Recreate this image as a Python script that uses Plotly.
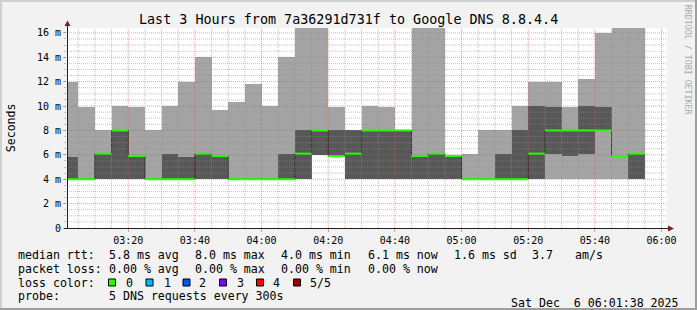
import numpy as np
import pandas as pd
import plotly.graph_objects as go

# ---------------- data ----------------
DAY = "2025-12-06"
x_start = pd.Timestamp(f"{DAY} 03:01:38")
x_end = pd.Timestamp(f"{DAY} 06:01:38")
step = pd.Timedelta(minutes=5)
interval_end = pd.date_range(f"{DAY} 03:05", f"{DAY} 05:55", freq="5min")
interval_start = interval_end - step

# sorted pings per 5-minute interval (ms)
ping_min = [4.0, 4.0, 4.0, 4.0, 4.0, 4.0, 4.0, 4.0, 4.0, 4.0, 4.0, 4.0, 4.0, 4.0, 4.0, 6.0, 5.9, 4.0,
            4.0, 4.0, 4.0, 4.0, 4.0, 4.0, 4.0, 4.0, 4.0, 4.0, 4.0, 4.0, 4.0, 4.0, 4.0, 4.0, 4.0]
ping_lo = [4.0, 4.0, 4.0, 4.0, 4.0, 4.0, 4.0, 4.0, 4.0, 4.0, 4.0, 4.0, 4.0, 4.0, 4.0, 6.0, 5.9, 4.0,
           4.0, 4.0, 4.0, 4.0, 4.0, 4.0, 4.0, 4.0, 4.0, 4.0, 4.0, 6.1, 5.9, 6.1, 8.0, 5.9, 4.0]
ping_med = [4.0, 4.0, 6.1, 8.0, 5.9, 4.0, 4.0, 4.0, 6.1, 5.9, 4.0, 4.0, 4.0, 4.0, 6.1, 8.0, 5.9, 6.1,
            8.0, 8.0, 8.0, 5.9, 6.1, 5.9, 4.0, 4.0, 4.0, 4.0, 6.1, 8.0, 8.0, 8.0, 8.0, 5.9, 6.1]
ping_hi = [5.8, 4.0, 6.1, 8.0, 5.9, 4.0, 6.1, 5.8, 6.1, 5.9, 4.0, 4.0, 4.0, 6.1, 8.0, 8.0, 8.0, 8.0,
           8.0, 8.0, 8.0, 6.0, 6.1, 5.9, 4.0, 4.0, 6.1, 8.0, 10.0, 9.9, 8.0, 10.0, 9.9, 5.9, 6.1]
ping_max = [12.0, 9.9, 8.0, 10.0, 9.9, 8.0, 10.0, 12.0, 14.0, 9.7, 10.3, 11.8, 10.0, 14.0, 16.4, 16.4, 9.9, 8.0,
            10.0, 9.9, 8.0, 16.4, 16.4, 5.9, 6.1, 8.0, 8.0, 10.0, 12.0, 12.0, 9.9, 12.2, 16.0, 16.4, 16.4]

y_max = 16.4
xtick_labels = ["03:20", "03:40", "04:00", "04:20", "04:40", "05:00", "05:20", "05:40", "06:00"]
ytick_vals = [0, 2, 4, 6, 8, 10, 12, 14, 16]
ytick_text = ["0", "2 m", "4 m", "6 m", "8 m", "10 m", "12 m", "14 m", "16 m"]

title_text = "Last 3 Hours from 7a36291d731f to Google DNS 8.8.4.4"
median_label = "median rtt:"
median_stats = ["5.8 ms avg", "8.0 ms max", "4.0 ms min", "6.1 ms now", "1.6 ms sd", "3.7", "am/s"]
loss_label = "packet loss:"
loss_stats = ["0.00 % avg", "0.00 % max", "0.00 % min", "0.00 % now"]
color_label = "loss color:"
loss_names = ["0", "1", "2", "3", "4", "5/5"]
loss_colors = ["#26ff00", "#00b8ff", "#0059ff", "#7e00ff", "#ff0000", "#a00000"]
probe_label = "probe:"
probe_text = "5 DNS requests every 300s"
date_text = "Sat Dec\u00a0\u00a06 06:01:38 2025"
watermark = "RRDTOOL / TOBI OETIKER"

# ---------------- layout geometry ----------------
W, H = 697, 310
L, R, T, B = 67, 667, 28, 228
FONT = "DejaVu Sans Mono"


def px(xp):
    return (xp - L) / (R - L)


def py(yp):
    return (B - yp) / (B - T)


fig = go.Figure()
width_ms = step.total_seconds() * 1000

# smoke: outer pair (min..max) and inner pair (2nd..4th)
fig.add_trace(go.Bar(
    x=interval_end, base=ping_min,
    y=(np.array(ping_max) - np.array(ping_min)).tolist(),
    offset=-width_ms, width=width_ms,
    marker=dict(color="#a4a4a4", line=dict(width=0)), hoverinfo="skip"))
fig.add_trace(go.Bar(
    x=interval_end, base=ping_lo,
    y=(np.array(ping_hi) - np.array(ping_lo)).tolist(),
    offset=-width_ms, width=width_ms,
    marker=dict(color="#585858", line=dict(width=0)), hoverinfo="skip"))

# median line (thin dark step)
mx = list(interval_start) + [interval_end[-1]]
my = list(ping_med) + [ping_med[-1]]
fig.add_trace(go.Scatter(x=mx, y=my, mode="lines",
                         line=dict(color="#202020", width=1, shape="hv"), hoverinfo="skip"))

# grid on top of the smoke
minor_y = [v for v in np.arange(0.5, y_max, 0.5) if v % 2 != 0]
major_y = [v for v in ytick_vals if v > 0]
grid_x_all = pd.date_range(f"{DAY} 03:05", f"{DAY} 06:00", freq="5min")
major_x = [t for t in grid_x_all if t.minute % 20 == 0]
minor_x = [t for t in grid_x_all if t.minute % 20 != 0]


def hlines(vals):
    xs, ys = [], []
    for v in vals:
        xs += [x_start, x_end, None]
        ys += [v, v, None]
    return xs, ys


def vlines(vals):
    xs, ys = [], []
    for v in vals:
        xs += [v, v, None]
        ys += [0, y_max, None]
    return xs, ys


GRID = "rgba(143,143,143,0.55)"
MGRID = "rgba(222,79,79,0.55)"
for fn, vals, col in [(hlines, minor_y, GRID), (vlines, minor_x, GRID),
                      (hlines, major_y, MGRID), (vlines, major_x, MGRID)]:
    gx, gy = fn(vals)
    fig.add_trace(go.Scatter(x=gx, y=gy, mode="lines",
                             line=dict(color=col, width=1, dash="1px,1px"), hoverinfo="skip"))

# loss-coloured median segments
gx, gy = [], []
for s, e, m in zip(interval_start, interval_end, ping_med):
    gx += [s, e, None]
    gy += [m, m, None]
fig.add_trace(go.Scatter(x=gx, y=gy, mode="lines",
                         line=dict(color=loss_colors[0], width=2), hoverinfo="skip"))

# ---------------- shapes: frame, axes, arrows ----------------
shapes = []
BG_A, BG_B = "#cfcfcf", "#9e9e9e"
shapes.append(dict(type="rect", xref="paper", yref="paper", x0=px(0), x1=px(W), y0=py(0), y1=py(2),
                   fillcolor=BG_A, line=dict(width=0), layer="below"))
shapes.append(dict(type="rect", xref="paper", yref="paper", x0=px(0), x1=px(2), y0=py(0), y1=py(H),
                   fillcolor=BG_A, line=dict(width=0), layer="below"))
shapes.append(dict(type="rect", xref="paper", yref="paper", x0=px(0), x1=px(W), y0=py(H - 2), y1=py(H),
                   fillcolor=BG_B, line=dict(width=0), layer="below"))
shapes.append(dict(type="rect", xref="paper", yref="paper", x0=px(W - 2), x1=px(W), y0=py(0), y1=py(H),
                   fillcolor=BG_B, line=dict(width=0), layer="below"))
AXIS = "#1f1f1f"
ARROW = "#801f1f"
shapes.append(dict(type="line", xref="paper", yref="paper", x0=px(L + 0.5), x1=px(L + 0.5),
                   y0=py(B + 0.5), y1=py(25), line=dict(color=AXIS, width=1), layer="above"))
shapes.append(dict(type="line", xref="paper", yref="paper", x0=px(L - 3), x1=px(669),
                   y0=py(B + 0.5), y1=py(B + 0.5), line=dict(color=AXIS, width=1), layer="above"))
shapes.append(dict(type="path", xref="paper", yref="paper",
                   path=f"M {px(64.5)} {py(26)} L {px(70.5)} {py(26)} L {px(67.5)} {py(20.5)} Z",
                   fillcolor=ARROW, line=dict(width=0), layer="above"))
shapes.append(dict(type="path", xref="paper", yref="paper",
                   path=f"M {px(668)} {py(225.5)} L {px(668)} {py(231.5)} L {px(674)} {py(228.5)} Z",
                   fillcolor=ARROW, line=dict(width=0), layer="above"))

# legend boxes
box_x = [108.5, 146, 183, 219.5, 256.5, 293.5]
name_x = [124, 161.7, 197.3, 235, 271, 308]
ROW = [254.5, 268.5, 282.5, 296]
for bx, c in zip(box_x, loss_colors):
    shapes.append(dict(type="rect", xref="paper", yref="paper", x0=px(bx), x1=px(bx + 7),
                       y0=py(ROW[2] - 3.5), y1=py(ROW[2] + 3.5),
                       fillcolor=c, line=dict(color="#000000", width=1), layer="above"))

# ---------------- annotations ----------------
anns = []


def ann(text, xp, yp, size=11.6, xanchor="left", color="#000000", angle=0):
    anns.append(dict(text=text, x=px(xp), y=py(yp), xref="paper", yref="paper",
                     xanchor=xanchor, yanchor="middle", showarrow=False, textangle=angle,
                     font=dict(family=FONT, size=size, color=color)))


ann(title_text, 348.5, 19, size=13.4, xanchor="center")
ann("Seconds", 10.8, 127.5, angle=-90, xanchor="center")
ann(watermark, 688.3, 60, size=8.3, xanchor="center", color="#a8a8a8", angle=90)

col_x = [107.3, 193.3, 279.3, 366, 451.7, 530, 572.7]
ann(median_label, 16, ROW[0])
for t, xp in zip(median_stats, col_x):
    ann(t, xp, ROW[0])
ann(loss_label, 16, ROW[1])
for t, xp in zip(loss_stats, col_x):
    ann(t, xp, ROW[1])
ann(color_label, 16, ROW[2])
for t, xp in zip(loss_names, name_x):
    ann(t, xp, ROW[2])
ann(probe_label, 16, ROW[3])
ann(probe_text, 107.3, ROW[3])
ann(date_text, 681, 302.5, xanchor="right")

fig.update_layout(
    width=W, height=H,
    margin=dict(l=L, r=W - R, t=T, b=H - B, pad=0),
    paper_bgcolor="#f2f2f2", plot_bgcolor="#ffffff",
    barmode="overlay", bargap=0, showlegend=False,
    font=dict(family=FONT, size=10, color="#000000"),
    shapes=shapes, annotations=anns,
    xaxis=dict(type="date", range=[x_start, x_end], showgrid=False, zeroline=False, showline=False,
               tickvals=[pd.Timestamp(f"{DAY} {t}") for t in xtick_labels], ticktext=xtick_labels,
               ticks="outside", ticklen=3, tickcolor=MGRID,
               tickfont=dict(family=FONT, size=10, color="#000000")),
    yaxis=dict(range=[0, y_max], showgrid=False, zeroline=False, showline=False,
               tickvals=ytick_vals, ticktext=ytick_text,
               ticks="outside", ticklen=3, tickcolor=MGRID,
               minor=dict(dtick=0.5, tick0=0, ticks="outside", ticklen=2, tickcolor=GRID),
               tickfont=dict(family=FONT, size=10, color="#000000")),
)

fig.write_html("out.html")
